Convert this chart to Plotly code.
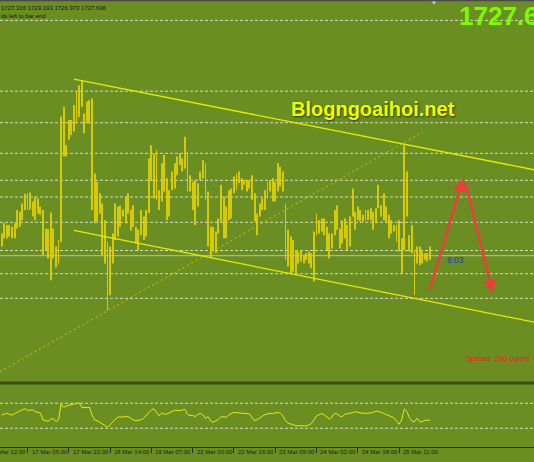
import plotly.graph_objs as go

W, H = 534, 462
bg = '#6b8e23'

# H1 bars, left to right (price high / low)
bar_high = [
    1731.4, 1733.1, 1732.8, 1732.8, 1732.5, 1733.1, 1735.3, 1735.0, 1736.4, 1738.0,
    1738.1, 1738.2, 1736.7, 1737.5, 1737.2, 1735.9, 1735.3, 1732.2, 1732.1, 1734.9,
    1732.2, 1729.2, 1730.3, 1750.9, 1752.5, 1746.1, 1750.3, 1750.3, 1752.8, 1755.0,
    1756.1, 1756.8, 1751.4, 1753.4, 1753.6, 1753.9, 1741.4, 1740.0, 1738.1, 1736.4,
    1733.6, 1730.0, 1729.2, 1731.4, 1736.4, 1735.9, 1736.0, 1735.4, 1737.5, 1738.1,
    1735.3, 1736.1, 1732.5, 1732.0, 1735.3, 1734.2, 1735.3,
    1743.9, 1746.1, 1744.7, 1745.3, 1738.6, 1743.1, 1744.5, 1740.6, 1738.6, 1741.7,
    1743.1, 1744.2, 1744.7, 1743.9, 1747.5, 1745.0, 1741.1, 1740.0, 1740.3, 1739.7,
    1741.7, 1743.6, 1743.1, 1738.4, 1732.5, 1732.5, 1731.7, 1733.9, 1739.5, 1737.5,
    1735.9, 1738.6, 1738.9, 1740.9, 1741.4, 1741.7, 1740.6, 1740.3, 1740.3, 1740.3,
    1741.1, 1738.1, 1734.7, 1736.4, 1737.2, 1738.6, 1740.0, 1740.3, 1740.6, 1740.0,
    1743.1, 1742.5, 1741.7, 1736.4, 1732.0, 1730.9, 1730.3,
    1728.6, 1728.4, 1728.6, 1727.8, 1728.1, 1728.4, 1728.1, 1731.7, 1734.7, 1733.6,
    1733.9, 1733.9, 1732.5, 1731.4, 1731.4, 1735.3, 1736.1, 1732.2, 1733.6, 1733.9,
    1732.8, 1734.2, 1738.9, 1735.0, 1735.9, 1735.3, 1734.5, 1735.3, 1735.3, 1735.6,
    1735.0, 1735.6, 1739.5, 1736.1, 1738.1, 1735.9, 1734.5, 1733.6, 1732.8, 1732.8,
    1733.6, 1730.6, 1746.1, 1741.7, 1731.1, 1732.8, 1728.6, 1729.2, 1729.2, 1728.4,
    1728.1, 1728.1, 1729.2,
]
bar_low = [
    1729.2, 1730.6, 1730.6, 1730.9, 1730.6, 1730.6, 1732.2, 1732.5, 1733.6, 1735.3,
    1735.3, 1735.4, 1734.2, 1733.6, 1734.7, 1734.5, 1727.8, 1728.6, 1727.2, 1723.6,
    1727.2, 1725.7, 1726.4, 1730.0, 1744.2, 1744.2, 1747.0, 1747.8, 1748.4, 1749.7,
    1750.8, 1752.5, 1748.1, 1750.0, 1749.7, 1735.3, 1733.1, 1733.4, 1734.7, 1727.8,
    1726.4, 1718.6, 1721.1, 1726.4, 1730.3, 1730.9, 1732.5, 1734.2, 1733.1, 1734.7,
    1731.9, 1732.5, 1729.7, 1728.6, 1731.1, 1730.3, 1730.9,
    1734.8, 1740.3, 1737.2, 1737.0, 1735.3, 1736.7, 1738.4, 1733.6, 1734.2, 1738.6,
    1738.9, 1741.1, 1742.8, 1741.7, 1742.2, 1738.4, 1738.4, 1735.3, 1732.8, 1735.9,
    1740.3, 1740.6, 1737.0, 1729.2, 1727.3, 1728.4, 1728.1, 1731.4, 1733.4, 1730.6,
    1730.6, 1733.6, 1733.9, 1738.1, 1738.6, 1739.8, 1738.6, 1739.5, 1738.4, 1738.9,
    1737.0, 1733.4, 1731.1, 1734.2, 1735.3, 1735.3, 1737.2, 1738.4, 1736.7, 1736.7,
    1738.4, 1739.2, 1738.4, 1727.0, 1725.9, 1724.7, 1725.0,
    1724.5, 1726.4, 1726.7, 1726.4, 1727.0, 1726.4, 1725.6, 1723.4, 1731.1, 1731.4,
    1731.7, 1731.1, 1728.6, 1727.2, 1728.9, 1731.1, 1732.0, 1728.9, 1729.7, 1730.6,
    1728.6, 1729.2, 1734.2, 1732.0, 1733.6, 1733.4, 1733.4, 1733.6, 1733.6, 1733.6,
    1732.0, 1733.1, 1735.6, 1734.2, 1733.6, 1733.4, 1730.6, 1731.4, 1731.7, 1730.0,
    1728.4, 1724.7, 1728.6, 1734.2, 1728.4, 1728.1, 1721.1, 1726.4, 1726.1, 1726.4,
    1727.0, 1726.7, 1727.0,
]
# oscillator (RSI-like, 0..100)
rsi = [
    51.2, 52.8, 53.9, 52.3, 51.2, 53.3, 54.9, 57.6, 59.7, 61.3,
    58.7, 59.2, 59.2, 56.5, 55.5, 54.4, 43.2, 42.1, 41.1, 44.3,
    45.9, 40.5, 43.2, 68.8, 63.5, 65.6, 66.7, 67.7, 68.3, 69.9,
    70.9, 63.5, 62.9, 62.9, 63.5, 51.2, 43.2, 42.1, 39.5, 37.3,
    34.7, 31.5, 35.2, 39.5, 44.3, 47.5, 48.5, 47.5, 49.1, 48.5,
    46.4, 43.2, 42.1, 42.7, 43.7, 45.9, 50.1, 54.4, 59.2, 61.3,
    55.5, 50.1, 54.9, 52.3, 52.8, 54.4, 56.5, 58.7, 58.7, 58.1,
    59.2, 60.3, 52.3, 50.1, 50.7, 48.5, 52.3, 53.9, 51.2, 45.9,
    48.5, 41.6, 39.5, 41.6, 44.3, 48.5, 47.5, 47.5, 51.2, 53.9,
    55.5, 54.9, 53.9, 53.9, 53.9, 53.3, 52.8, 47.5, 42.1, 43.7,
    45.9, 49.1, 51.7, 52.8, 53.9, 53.3, 53.9, 55.5, 53.9, 49.6,
    42.1, 37.9, 36.8, 35.2, 34.1, 34.1, 33.6, 33.6, 33.6, 35.2,
    37.3, 43.2, 49.6, 51.7, 53.3, 51.7, 48.5, 44.8, 48.0, 53.9,
    52.8, 49.6, 48.5, 52.3, 53.3, 53.9, 54.9, 56.5, 55.5, 54.4,
    53.9, 53.9, 53.9, 54.4, 55.5, 57.1, 57.1, 55.5, 53.9, 51.7,
    49.6, 48.0, 46.9, 41.6, 36.3, 43.2, 60.8, 57.1, 46.9, 41.1,
    40.5, 45.9, 40.5, 40.5, 42.7, 42.7, 43.2,
]
bar_idx = list(range(len(bar_high)))

tick_bar = [-6, 10, 26, 42, 58, 74, 90, 106, 122, 138, 154]
tick_text = ['16 Mar 12:00', '17 Mar 05:00', '17 Mar 22:00', '18 Mar 14:00',
             '19 Mar 07:00', '22 Mar 00:00', '22 Mar 16:00', '23 Mar 09:00',
             '24 Mar 02:00', '24 Mar 18:00', '25 Mar 11:00']

level_prices = [1766.9, 1755.1, 1749.85, 1744.75, 1740.25, 1737.47,
                1733.25, 1728.55, 1724.68, 1720.58]
bid_price = 1727.69
rsi_levels = [70, 30]

upper_x, upper_y = [28.0, 210.0], [1757.1, 1741.7]
lower_x, lower_y = [28.0, 210.0], [1731.9, 1716.3]
mid_x, mid_y = [-0.7, 163.2], [1708.35, 1748.3]

# hand-drawn arrows: (tail x, tail y, head x, head y)
arrows = [(165.7, 1721.7, 178.8, 1740.6), (179.6, 1740.1, 190.3, 1721.45)]

x_range = [-0.659, 206.3]
price_range = [1706.72, 1770.3]
rsi_range = [0, 99.2]


def py(px):
    return 1 - px / H


fig = go.Figure()
fig.add_trace(go.Bar(
    x=bar_idx, base=bar_low, y=[h - l for h, l in zip(bar_high, bar_low)],
    width=0.36, opacity=0.9, marker=dict(color='rgb(226,208,8)', line=dict(width=0)),
    xaxis='x', yaxis='y', hoverinfo='skip'))
fig.add_trace(go.Scatter(x=upper_x, y=upper_y, mode='lines',
                         line=dict(color='rgb(228,236,0)', width=1.3), yaxis='y'))
fig.add_trace(go.Scatter(x=lower_x, y=lower_y, mode='lines',
                         line=dict(color='rgb(228,236,0)', width=1.3), yaxis='y'))
fig.add_trace(go.Scatter(x=mid_x, y=mid_y, mode='lines',
                         line=dict(color='rgb(205,195,0)', width=1, dash='2px,3px'), yaxis='y'))
fig.add_trace(go.Scatter(x=bar_idx, y=rsi, mode='lines',
                         line=dict(color='rgb(232,232,20)', width=1), yaxis='y2'))

shapes = []
for p in level_prices:
    shapes.append(dict(type='line', xref='paper', x0=0, x1=1, yref='y', y0=p, y1=p, layer='below',
                       line=dict(color='rgba(232,232,222,0.85)', width=1, dash='3px,2px')))
shapes.append(dict(type='line', xref='paper', x0=0, x1=1, yref='y', y0=bid_price, y1=bid_price,
                   layer='below', line=dict(color='rgb(172,182,150)', width=1.3)))
for r in rsi_levels:
    shapes.append(dict(type='line', xref='paper', x0=0, x1=1, yref='y2', y0=r, y1=r, layer='below',
                       line=dict(color='rgba(232,232,222,0.85)', width=1, dash='3px,2px')))
shapes.append(dict(type='rect', xref='paper', x0=0, x1=1, yref='paper', y0=py(384.5), y1=py(381.5),
                   fillcolor='#3e4d18', line=dict(width=0)))
shapes.append(dict(type='rect', xref='paper', x0=0, x1=1, yref='paper', y0=py(1.2), y1=1,
                   fillcolor='#4a4a4a', line=dict(width=0)))

ann = []
for t, txt in zip(tick_bar, tick_text):
    ann.append(dict(xref='paper', yref='paper', x=(t - x_range[0]) / (x_range[1] - x_range[0]),
                    y=py(452), xanchor='left', yanchor='middle', xshift=2, showarrow=False,
                    text=txt, font=dict(size=6, color='#1c1c1c')))
for tx, ty, hx, hy in arrows:
    ann.append(dict(x=hx, y=hy, ax=tx, ay=ty, xref='x', yref='y', axref='x', ayref='y',
                    text='', showarrow=True, arrowhead=2, arrowsize=1, arrowwidth=2.6,
                    arrowcolor='rgb(236,62,58)'))
ann += [
    dict(xref='paper', yref='paper', x=0, y=py(7.5), xanchor='left', yanchor='middle', xshift=-1,
         showarrow=False, text='1727.316 1729.193 1726.973 1727.696',
         font=dict(size=6, color='#141414')),
    dict(xref='paper', yref='paper', x=0, y=py(15.5), xanchor='left', yanchor='middle', xshift=-1,
         showarrow=False, text='ds left to bar end', font=dict(size=6, color='#141414')),
    dict(xref='paper', yref='paper', x=457 / W, y=py(16), xanchor='left', yanchor='middle',
         showarrow=False, text='<b>1727.69</b>', font=dict(size=26, color='#7cfc00')),
    dict(xref='paper', yref='paper', x=434 / W, y=py(3), xanchor='center', yanchor='middle',
         showarrow=False, text='▼', font=dict(size=6, color='#d0d0d0')),
    dict(xref='paper', yref='paper', x=289 / W, y=py(109), xanchor='left', yanchor='middle',
         showarrow=False, text='<b>Blogngoaihoi.net</b>',
         font=dict(size=20, color='#eeff00', shadow='1px 1px 2px #2d3a0c')),
    dict(xref='paper', yref='paper', x=445 / W, y=py(260), xanchor='left', yanchor='middle',
         showarrow=False, text='8:03', font=dict(size=8.5, color='#1e3cc8')),
    dict(xref='paper', yref='paper', x=464 / W, y=py(358), xanchor='left', yanchor='middle',
         showarrow=False, text='Spread: 200 points', font=dict(size=7.6, color='#e82020')),
]

fig.update_layout(
    width=W, height=H,
    margin=dict(l=0, r=0, t=0, b=0),
    paper_bgcolor=bg, plot_bgcolor=bg,
    showlegend=False, hovermode=False,
    font=dict(family='Liberation Sans'),
    xaxis=dict(range=x_range, anchor='y2', showgrid=False, zeroline=False,
               showline=True, linecolor='#27300e', linewidth=1,
               ticks='outside', ticklen=5, tickcolor='#27300e', tickwidth=1,
               tickvals=tick_bar, showticklabels=False),
    yaxis=dict(domain=[py(381.5), 1], range=price_range, showgrid=False,
               zeroline=False, showticklabels=False),
    yaxis2=dict(domain=[py(447), py(385)], range=rsi_range, showgrid=False,
                zeroline=False, showticklabels=False),
    shapes=shapes, annotations=ann,
)

# page margin off, so the 534x462 figure fills the window
fig.write_html("out.html", config={'displayModeBar': False},
               post_script="document.body.style.margin='0';")
